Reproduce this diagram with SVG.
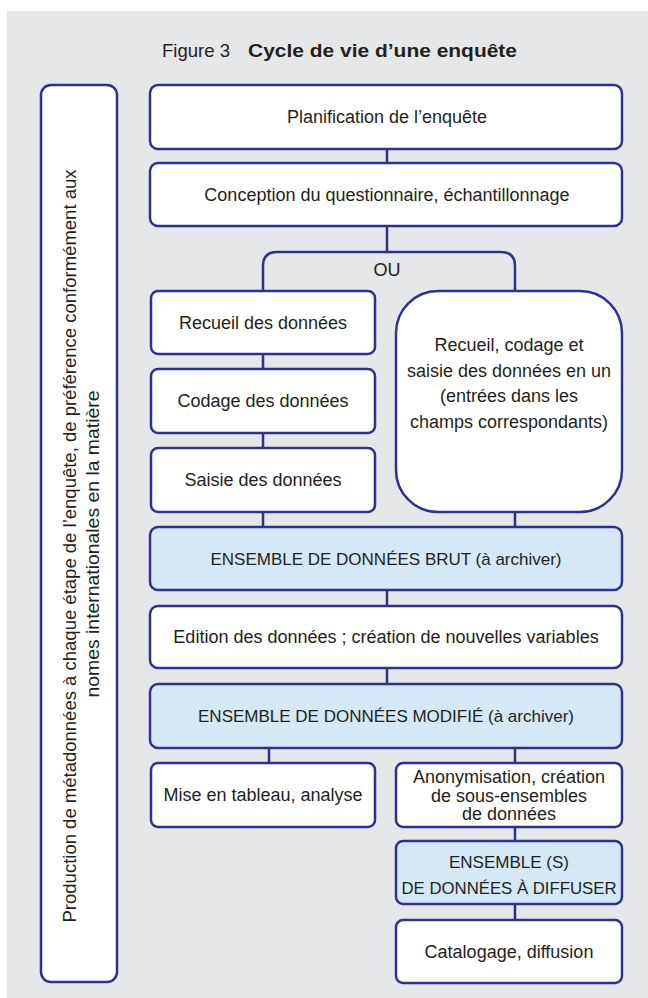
<svg xmlns="http://www.w3.org/2000/svg" width="648" height="998" viewBox="0 0 648 998">
<style>
.bg{fill:#e6e7e9}
.box{fill:#ffffff;stroke:#2e3192;stroke-width:2.5}
.hl{fill:#d5e8f6;stroke:#2e3192;stroke-width:2.5}
.ln{fill:none;stroke:#2e3192;stroke-width:2.5}
text{font-family:"Liberation Sans",Arial,sans-serif;font-size:18px;fill:#231f20}
.c{text-anchor:middle}
.cap{font-size:17px}
.b{font-weight:bold}
.t{font-size:19px}
</style>
<rect class="bg" x="7" y="11" width="641" height="987"/>
<g id="title">
<text class="t" x="162" y="57" textLength="68" lengthAdjust="spacingAndGlyphs">Figure 3</text>
<text class="t b" x="248" y="57" textLength="269" lengthAdjust="spacingAndGlyphs">Cycle de vie d’une enquête</text>
</g>
<g id="connectors">
<line class="ln" x1="387" y1="149" x2="387" y2="163"/>
<line class="ln" x1="387" y1="226" x2="387" y2="252"/>
<path class="ln" d="M263,291 V266 Q263,252 277,252 H501 Q515,252 515,266 V291"/>
<line class="ln" x1="263" y1="354" x2="263" y2="369"/>
<line class="ln" x1="263" y1="433" x2="263" y2="448"/>
<line class="ln" x1="263" y1="512" x2="263" y2="527"/>
<line class="ln" x1="515" y1="512" x2="515" y2="527"/>
<line class="ln" x1="387" y1="590" x2="387" y2="606"/>
<line class="ln" x1="387" y1="668" x2="387" y2="684"/>
<line class="ln" x1="269" y1="748" x2="269" y2="763"/>
<line class="ln" x1="515" y1="748" x2="515" y2="763"/>
<line class="ln" x1="515" y1="827" x2="515" y2="841"/>
<line class="ln" x1="515" y1="904" x2="515" y2="920"/>
</g>
<g id="ou"><text class="c" x="387" y="276">OU</text></g>
<g id="metadata">
<rect class="box" x="41" y="85" width="76" height="897" rx="10"/>
<text class="c" transform="translate(76,546) rotate(-90)" textLength="753" lengthAdjust="spacingAndGlyphs">Production de métadonnées à chaque étape de l’enquête, de préférence conformément aux</text>
<text class="c" transform="translate(99,544) rotate(-90)" textLength="307" lengthAdjust="spacingAndGlyphs">nomes internationales en la matière</text>
</g>
<g id="planification">
<rect class="box" x="150" y="85" width="472" height="64" rx="8"/>
<text class="c" x="387" y="123">Planification de l’enquête</text>
</g>
<g id="conception">
<rect class="box" x="150" y="163" width="472" height="63" rx="8"/>
<text class="c" x="387" y="200.5">Conception du questionnaire, échantillonnage</text>
</g>
<g id="recueil">
<rect class="box" x="151" y="291" width="224" height="63" rx="7"/>
<text class="c" x="263" y="328.5">Recueil des données</text>
</g>
<g id="codage">
<rect class="box" x="151" y="369" width="224" height="64" rx="7"/>
<text class="c" x="263" y="407">Codage des données</text>
</g>
<g id="saisie">
<rect class="box" x="151" y="448" width="224" height="64" rx="7"/>
<text class="c" x="263" y="486">Saisie des données</text>
</g>
<g id="tout-en-un">
<rect class="box" x="396" y="291" width="226" height="221" rx="42"/>
<text class="c" x="509" y="351">Recueil, codage et</text>
<text class="c" x="509" y="376.5">saisie des données en un</text>
<text class="c" x="509" y="402">(entrées dans les</text>
<text class="c" x="509" y="427.5">champs correspondants)</text>
</g>
<g id="brut">
<rect class="hl" x="150" y="527" width="472" height="63" rx="8"/>
<text class="c cap" x="386" y="564.5">ENSEMBLE DE DONNÉES BRUT (à archiver)</text>
</g>
<g id="edition">
<rect class="box" x="150" y="606" width="472" height="62" rx="8"/>
<text class="c" x="386" y="643">Edition des données ; création de nouvelles variables</text>
</g>
<g id="modifie">
<rect class="hl" x="150" y="684" width="472" height="64" rx="8"/>
<text class="c cap" x="386" y="722">ENSEMBLE DE DONNÉES MODIFIÉ (à archiver)</text>
</g>
<g id="tableau">
<rect class="box" x="151" y="763" width="224" height="64" rx="7"/>
<text class="c" x="263" y="801">Mise en tableau, analyse</text>
</g>
<g id="anonymisation">
<rect class="box" x="396" y="763" width="226" height="64" rx="7"/>
<text class="c" x="509" y="783">Anonymisation, création</text>
<text class="c" x="509" y="801.5">de sous-ensembles</text>
<text class="c" x="509" y="820">de données</text>
</g>
<g id="diffuser">
<rect class="hl" x="396" y="841" width="226" height="63" rx="7"/>
<text class="c cap" x="509" y="868">ENSEMBLE (S)</text>
<text class="c cap" x="509" y="894" textLength="215" lengthAdjust="spacingAndGlyphs">DE DONNÉES À DIFFUSER</text>
</g>
<g id="catalogage">
<rect class="box" x="396" y="920" width="226" height="63" rx="7"/>
<text class="c" x="509" y="957.5">Catalogage, diffusion</text>
</g>
</svg>
